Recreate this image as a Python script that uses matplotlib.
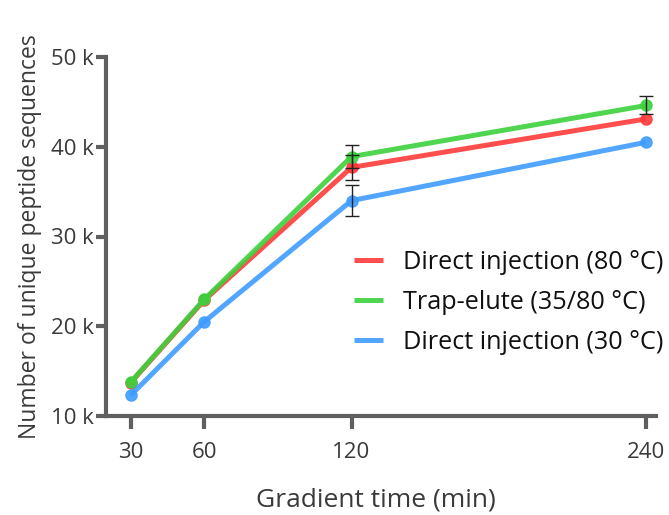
import matplotlib.pyplot as plt

plt.rcParams['font.family'] = ['Open Sans', 'DejaVu Sans']

gradient_min = [30, 60, 120, 240]
labels = ["Direct injection (80 °C)", "Trap-elute (35/80 °C)", "Direct injection (30 °C)"]
colors = ["#ff3b3b", "#3dd13d", "#3f9dff"]

# unique peptide sequences (mean) and spread; None = no error bar drawn
direct_80 = [13700, 22900, 37700, 43100]
trap_elute = [13750, 23000, 38900, 44600]
direct_30 = [12300, 20500, 34000, 40500]
direct_80_err = [None, None, 1400, None]
trap_elute_err = [None, None, 1250, 1000]
direct_30_err = [None, None, 1700, None]

series = [direct_80, trap_elute, direct_30]
errors = [direct_80_err, trap_elute_err, direct_30_err]

axis_grey = "#5f5f5f"
text_grey = "#3a3a3a"

fig = plt.figure(figsize=(6.69, 5.15), dpi=100)
ax = fig.add_axes([106 / 669, 1 - 416 / 515, (656 - 106) / 669, (416 - 57) / 515])

for vals, errs, col, lab in zip(series, errors, colors, labels):
    ax.plot(gradient_min, vals, color=col, lw=3.6, marker="o", ms=8,
            alpha=0.9, label=lab, solid_capstyle="butt", zorder=3)
    xs = [x for x, e in zip(gradient_min, errs) if e is not None]
    ys = [v for v, e in zip(vals, errs) if e is not None]
    es = [e for e in errs if e is not None]
    ax.errorbar(xs, ys, yerr=es, fmt="none", ecolor="#222222",
                elinewidth=1.0, capsize=5, capthick=1.0, zorder=4)

ax.set_xlim(20, 244)
ax.set_ylim(10000, 50000)
ax.set_xticks(gradient_min)
ax.set_yticks([10000, 20000, 30000, 40000, 50000])
ax.set_yticklabels(["10 k", "20 k", "30 k", "40 k", "50 k"])

for side in ("top", "right"):
    ax.spines[side].set_visible(False)
for side in ("left", "bottom"):
    ax.spines[side].set_color(axis_grey)
    ax.spines[side].set_linewidth(3)
ax.tick_params(axis="x", length=9, width=3, color=axis_grey, labelsize=16,
               labelcolor=text_grey, pad=10)
ax.tick_params(axis="y", length=7, width=3, color=axis_grey, labelsize=16,
               labelcolor=text_grey, pad=2)

ax.set_xlabel("Gradient time (min)", fontsize=19, color=text_grey)
ax.xaxis.set_label_coords(0.49, -0.2)
ax.set_ylabel("Number of unique peptide sequences", fontsize=16.5, color=text_grey,
              labelpad=6)

leg = ax.legend(loc="center left", bbox_to_anchor=(0.451, 0.316), frameon=False,
                fontsize=18.2, handlelength=1.16, handletextpad=0.76, labelspacing=0.6,
                borderaxespad=0, borderpad=0)
for h in leg.legend_handles:
    h.set_marker("")
    h.set_alpha(0.9)
for t in leg.get_texts():
    t.set_color("#111111")

fig.savefig("out.png", dpi=100)
